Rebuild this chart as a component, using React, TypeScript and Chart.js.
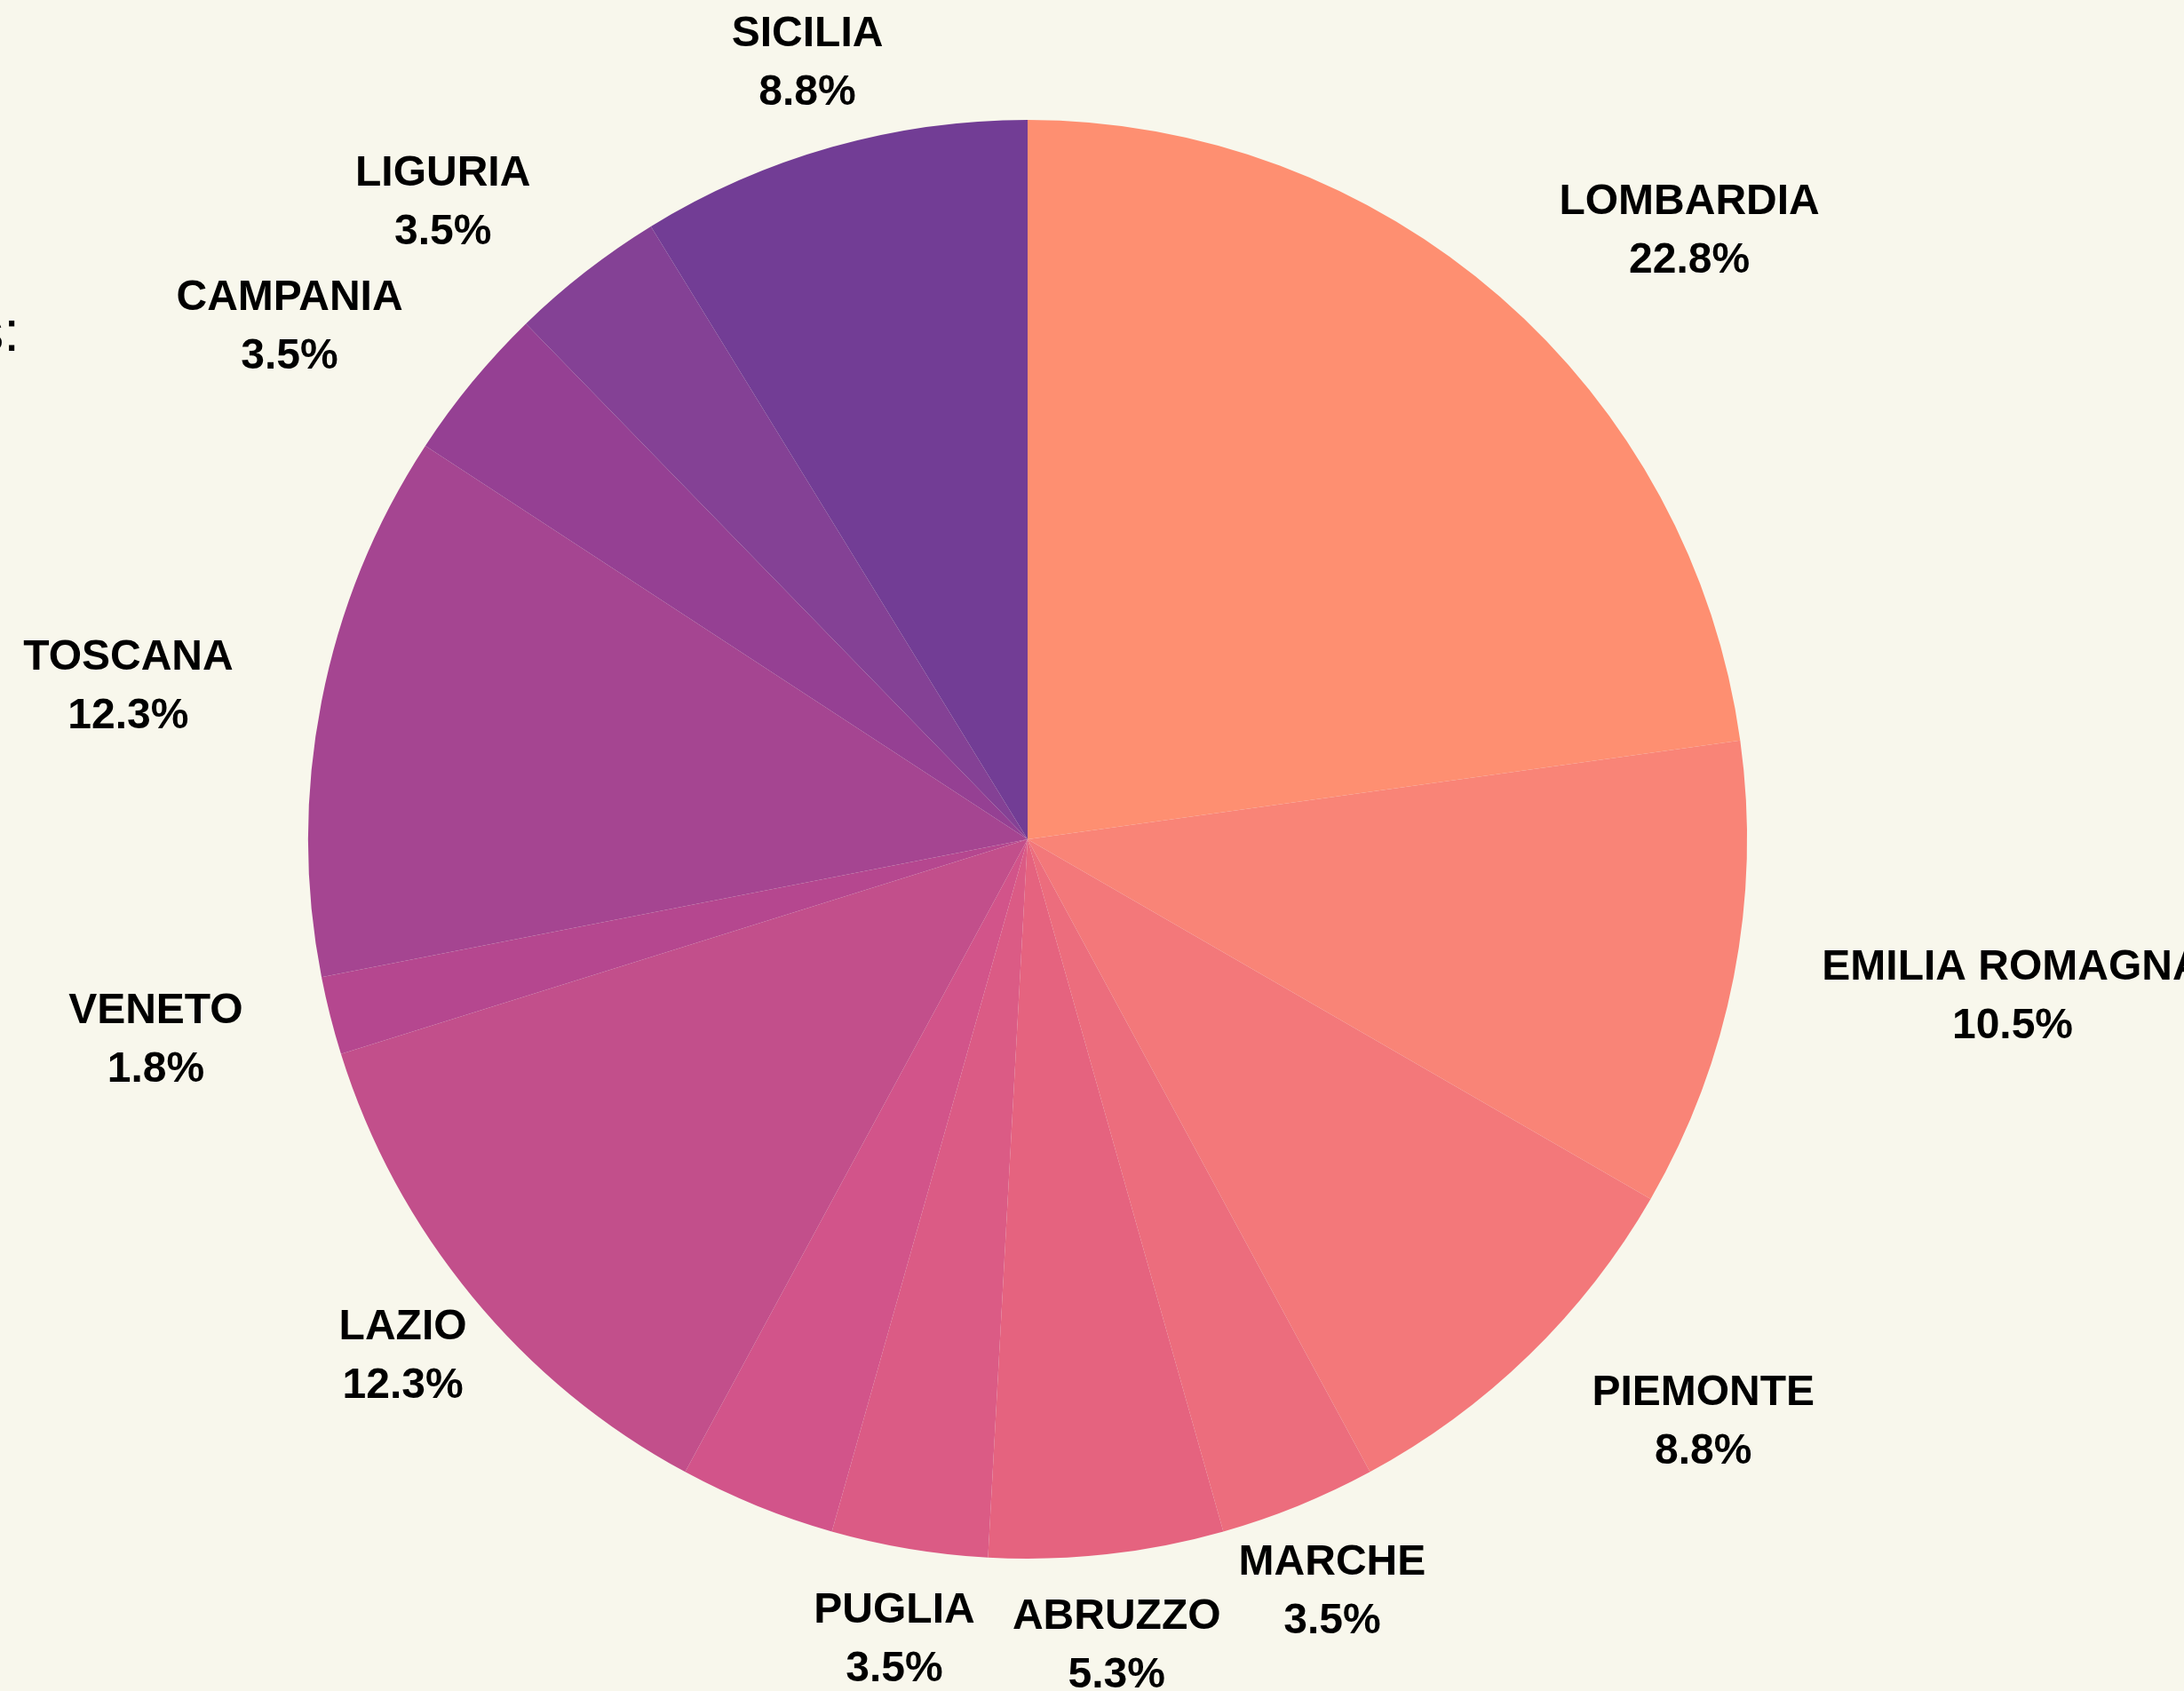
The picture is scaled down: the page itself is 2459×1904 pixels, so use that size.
import React, { useEffect, useRef } from "react";
import { Chart, registerables } from "chart.js";

Chart.register(...registerables);

// ---- data ----
const regions = [
  "LOMBARDIA",
  "EMILIA ROMAGNA",
  "PIEMONTE",
  "MARCHE",
  "ABRUZZO",
  "PUGLIA",
  "",
  "LAZIO",
  "VENETO",
  "TOSCANA",
  "CAMPANIA",
  "LIGURIA",
  "SICILIA",
];
const counts = [13, 6, 5, 2, 3, 2, 2, 7, 1, 7, 2, 2, 5];
const titleText = "Italian regions:";

// ---- styles ----
const sliceColors = [
  "#FE8F71",
  "#F98477",
  "#F3787A",
  "#EC6D7D",
  "#E5637F",
  "#DB5B85",
  "#D2548A",
  "#C24F8B",
  "#B5478F",
  "#A54591",
  "#954093",
  "#844195",
  "#723D95",
];
const labelAlign = [
  "left",
  "left",
  "left",
  "center",
  "center",
  "center",
  "center",
  "center",
  "right",
  "right",
  "right",
  "right",
  "center",
];

const W = 2459;
const H = 1904;
const BG = "#F8F7EC";
const LABEL_FONT = 'bold 48px "Liberation Sans", Arial, sans-serif';

const labelPlugin = {
  id: "outerLabels",
  beforeDraw(chart: any) {
    const ctx = chart.ctx;
    ctx.save();
    ctx.fillStyle = BG;
    ctx.fillRect(0, 0, chart.width, chart.height);
    ctx.restore();
  },
  afterDraw(chart: any) {
    const ctx = chart.ctx;
    const meta = chart.getDatasetMeta(0);
    const data = chart.data.datasets[0].data as number[];
    const total = data.reduce((a: number, b: number) => a + b, 0);
    ctx.save();
    ctx.fillStyle = "#000000";
    ctx.font = LABEL_FONT;
    ctx.textBaseline = "alphabetic";
    ctx.textAlign = "center";
    meta.data.forEach((arc: any, i: number) => {
      const name = chart.data.labels[i] as string;
      if (!name) return;
      const p = arc.getProps(["x", "y", "startAngle", "endAngle", "outerRadius"], true);
      const mid = (p.startAngle + p.endAngle) / 2;
      const r = p.outerRadius * 1.125;
      const ax = p.x + Math.cos(mid) * r;
      const ay = p.y + Math.sin(mid) * r;
      const pct = ((data[i] / total) * 100).toFixed(1) + "%";
      const bw = Math.max(ctx.measureText(name).width, ctx.measureText(pct).width);
      let cx = ax;
      if (labelAlign[i] === "left") cx = ax + bw / 2;
      else if (labelAlign[i] === "right") cx = ax - bw / 2;
      ctx.fillText(name, cx, ay - 16.5);
      ctx.fillText(pct, cx, ay + 49.5);
    });
    // title (mostly outside the visible area)
    ctx.font = '64px "Liberation Sans", Arial, sans-serif';
    ctx.textAlign = "right";
    ctx.fillText(titleText, 22, 395);
    ctx.restore();
  },
};

export default function App() {
  const canvasRef = useRef<HTMLCanvasElement | null>(null);

  useEffect(() => {
    const canvas = canvasRef.current;
    if (!canvas) return;
    const chart = new Chart(canvas, {
      type: "pie",
      data: {
        labels: regions,
        datasets: [
          {
            data: counts,
            backgroundColor: sliceColors,
            borderWidth: 0,
            hoverOffset: 0,
          },
        ],
      },
      options: {
        responsive: false,
        animation: false,
        devicePixelRatio: 1,
        layout: {
          padding: { left: 347, top: 135, right: 492, bottom: 149 },
        },
        plugins: {
          legend: { display: false },
          tooltip: { enabled: false },
        },
      },
      plugins: [labelPlugin],
    });
    return () => chart.destroy();
  }, []);

  return (
    <div
      style={{
        position: "fixed",
        left: 0,
        top: 0,
        width: W,
        height: H,
        background: BG,
        overflow: "hidden",
      }}
    >
      <canvas ref={canvasRef} width={W} height={H} style={{ display: "block", width: W, height: H }} />
    </div>
  );
}
